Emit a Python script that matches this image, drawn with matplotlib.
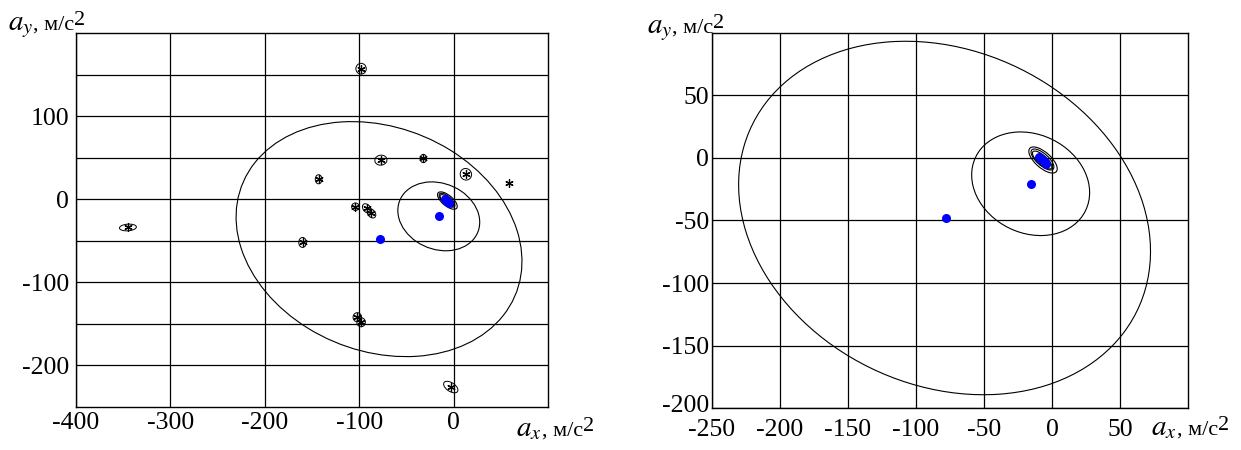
import matplotlib
matplotlib.use("Agg")
import matplotlib.pyplot as plt
from matplotlib.patches import Ellipse
from matplotlib.transforms import IdentityTransform, ScaledTranslation

plt.rcParams['font.family'] = 'serif'
plt.rcParams['font.serif'] = ['Liberation Serif', 'DejaVu Serif']
plt.rcParams['mathtext.fontset'] = 'stix'
plt.rcParams['axes.unicode_minus'] = False

# Single measurements (asterisks) with their own small scatter ellipses
star_x = [-98, -77, -32, -143, 13, 59, -104, -92, -87, -160, -345, -102, -98, -3]
star_y = [157, 47, 49, 24, 30, 20, -9, -11, -17, -52, -34, -142, -148, -226]
star_ell_w = [11, 13, 7, 7, 12, 0, 8, 8, 8, 8, 18, 9, 9, 18]
star_ell_h = [13, 12, 10, 11, 14, 0, 9, 12, 12, 12, 8, 11, 11, 10]
star_ell_ang = [0, 20, 0, 0, 10, 0, 0, 30, 30, 0, 5, 0, 0, -40]

# Mean values (blue points)
mean_x = [-78, -15.5, -9.5, -8, -6.5, -5.5, -4.5]
mean_y = [-48, -20.5, 0.5, -0.5, -2, -3.5, -4.5]

# Confidence ellipses around the means
conf_cx = [-79, -15.7, -6.6, -7.0, -7.2]
conf_cy = [-48, -20.6, -1.6, -1.2, -1.6]
conf_w = [321, 92, 27, 22, 19]
conf_h = [262, 77, 12, 9, 7]
conf_ang = [-35, -37.5, -45, -45, -45]

# Axis ranges / ticks for both panels
left_xticks = [-400, -300, -200, -100, 0]
left_yticks = [-200, -100, 0, 100]
left_ygrid = [-150, -50, 50, 150]
right_xticks = [-250, -200, -150, -100, -50, 0, 50]
right_yticks = [-200, -150, -100, -50, 0, 50]

W, H = 1241, 450
fig = plt.figure(figsize=(W / 100, H / 100), dpi=100)

ax1 = fig.add_axes([76 / W, 1 - 407 / H, 472 / W, 374 / H])
ax2 = fig.add_axes([712 / W, 1 - 408 / H, 476 / W, 375 / H])


def draw_common(ax):
    for cx, cy, w, h, a in zip(conf_cx, conf_cy, conf_w, conf_h, conf_ang):
        ax.add_patch(Ellipse((cx, cy), w, h, angle=a, facecolor='none',
                             edgecolor='black', lw=0.8, zorder=3))
    ax.plot(mean_x, mean_y, 'o', color='#0000ff', ms=6.5, mec='none', zorder=5)
    ax.set_axisbelow(True)
    ax.grid(True, which='both', color='black', lw=0.9)
    ax.tick_params(which='both', length=0, labelsize=18.5)
    for s in ax.spines.values():
        s.set_linewidth(1.0)


# Left panel
ax1.set_xlim(-400, 100)
ax1.set_ylim(-250, 200)
draw_common(ax1)
for x, y, w, h, a in zip(star_x, star_y, star_ell_w, star_ell_h, star_ell_ang):
    if w > 0:
        ax1.add_patch(Ellipse((x, y), w, h, angle=a, facecolor='none',
                              edgecolor='black', lw=0.7, zorder=3))
ax1.plot(star_x, star_y, ls='none', marker=(6, 2, 0), color='black',
         ms=6, mew=0.9, zorder=4)
ax1.set_xticks(left_xticks)
ax1.set_yticks(left_yticks)
ax1.set_yticks(left_ygrid, minor=True)
ax1.tick_params(axis='x', pad=3.5)
ax1.tick_params(axis='y', pad=5)

# Right panel
ax2.set_xlim(-250, 100)
ax2.set_ylim(-200, 100)
draw_common(ax2)
ax2.set_xticks(right_xticks)
ax2.set_yticks(right_yticks)
ax2.tick_params(axis='x', pad=8)
ax2.tick_params(axis='y', pad=2)
# lowest y label sits a little above its gridline
lab = ax2.get_yticklabels()[0]
lab.set_transform(lab.get_transform() + ScaledTranslation(0, 4 / 100, fig.dpi_scale_trans))


def axis_label(x, y, sub):
    r = fig.canvas.get_renderer()
    y = H - y
    t = fig.text(x, y, rf"$a_{sub}$", fontsize=21, transform=IdentityTransform(),
                 va='baseline', ha='left')
    bb = t.get_window_extent(r)
    t2 = fig.text(bb.x1, y, ", м/с", fontsize=16, transform=IdentityTransform(),
                  va='baseline', ha='left')
    bb2 = t2.get_window_extent(r)
    fig.text(bb2.x1, y + 5, "2", fontsize=16, transform=IdentityTransform(),
             va='baseline', ha='left')


axis_label(8, 30, 'y')
axis_label(516, 436, 'x')
axis_label(647, 33, 'y')
axis_label(1151, 435, 'x')

fig.savefig("out.png", dpi=100)
